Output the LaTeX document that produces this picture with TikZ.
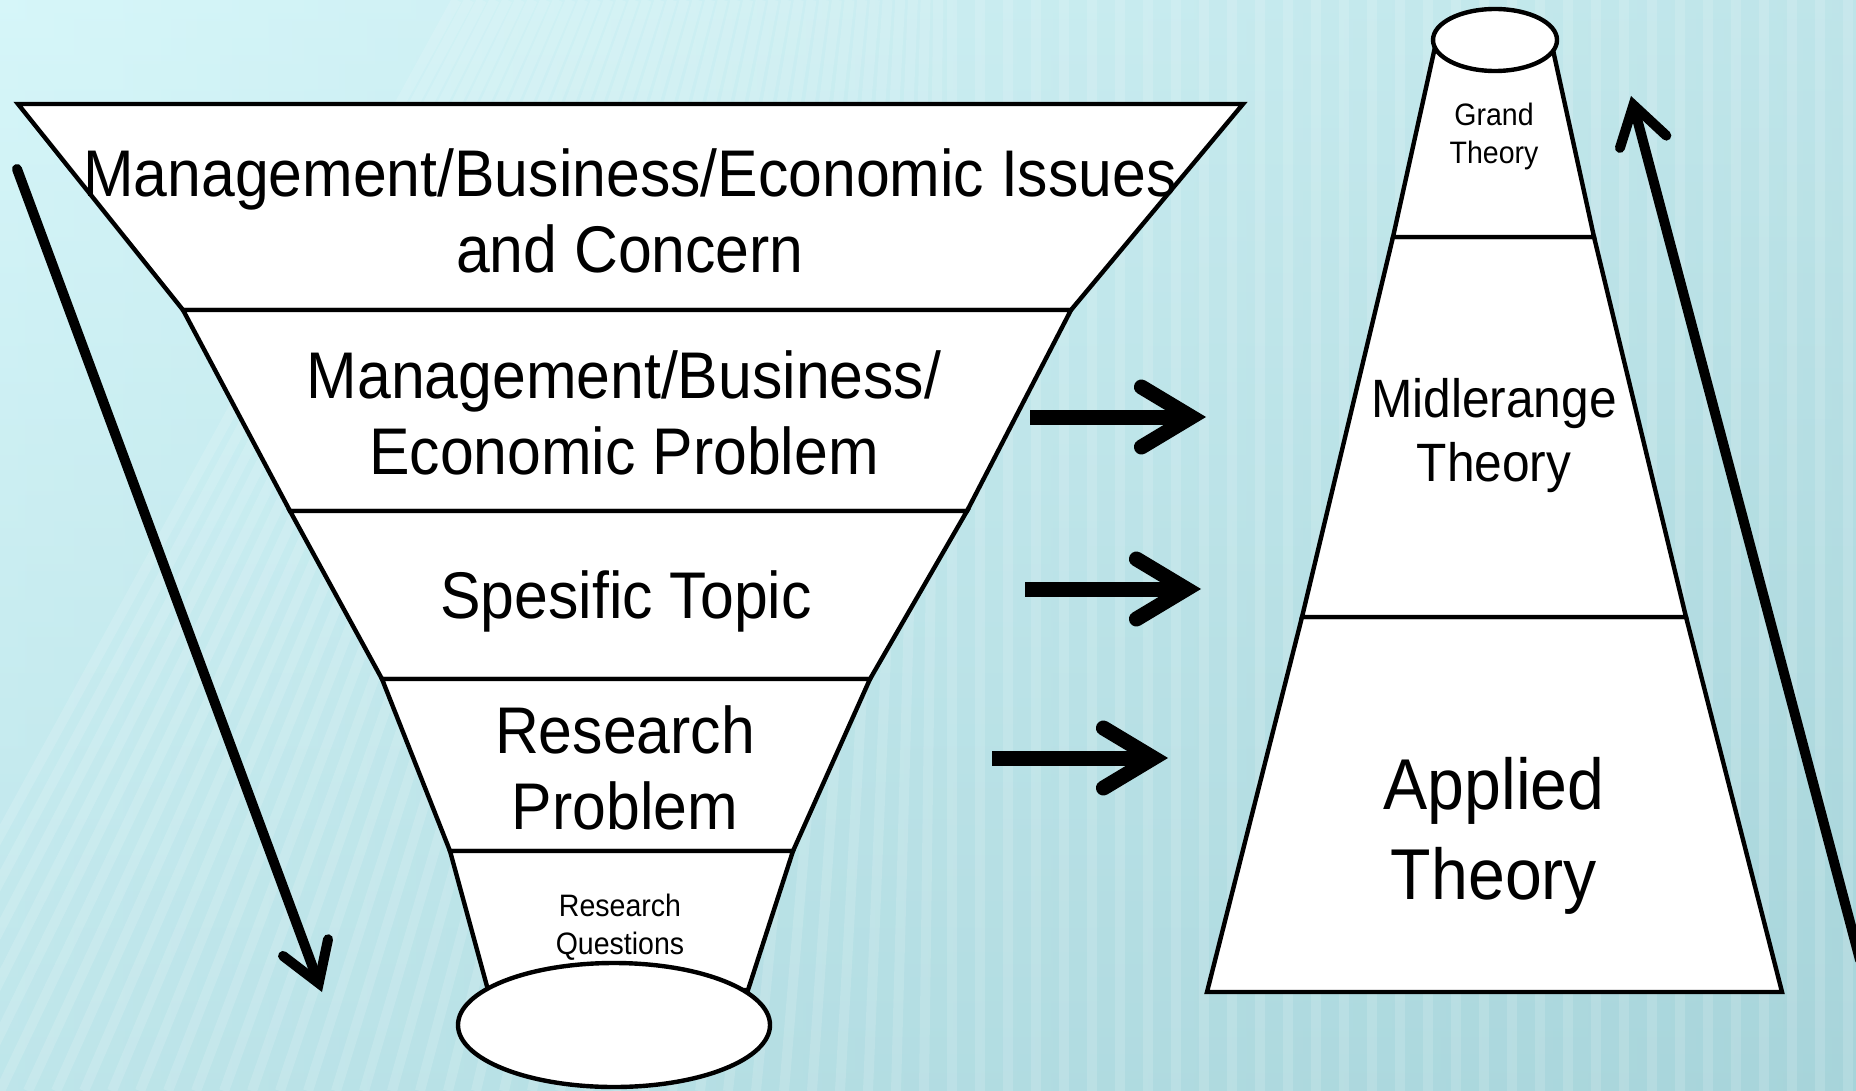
\documentclass[tikz,border=0pt]{standalone}
\usepackage{fontspec}
\setmainfont{Liberation Sans}[FakeStretch=0.92]
\usetikzlibrary{arrows.meta}
\definecolor{bgtop}{HTML}{D6F6F9}
\definecolor{bgbot}{HTML}{ABD8DE}
\definecolor{bgright}{HTML}{A2D0D6}
\begin{document}
\begin{tikzpicture}[x=0.5pt,y=-0.5pt,
  layer/.style={draw=black, fill=white, line width=2.2pt, line join=miter},
  bigtxt/.style={align=center, font=\fontsize{33}{38}\selectfont, inner sep=0pt},
  smalltxt/.style={align=center, font=\fontsize{15.5}{19}\selectfont, inner sep=0pt},
  midtxt/.style={align=center, font=\fontsize{27}{32}\selectfont, inner sep=0pt},
  apptxt/.style={align=center, font=\fontsize{36}{45}\selectfont, inner sep=0pt},
  longarrow/.style={line width=5pt, line cap=round,
    -{Straight Barb[length=19pt, width=24pt, line cap=round, line join=miter]}},
  flowarrow/.style={line width=7.5pt,
    -{Straight Barb[length=25pt, width=30pt, line cap=round, line join=miter]}}
]
\useasboundingbox (0,0) rectangle (1856,1091);
% background
\shade[top color=bgtop, bottom color=bgbot] (0,0) rectangle (1856,1091);
\shade[left color=bgtop, right color=bgright, opacity=0.45] (0,0) rectangle (1856,1091);
\begin{scope}
  \clip (0,0) rectangle (1856,1091);
  \foreach \i in {0,...,72} {
    \pgfmathsetmacro{\bx}{\i*28-140}
    \pgfmathsetmacro{\s}{max(0,520*(1-\bx/950))}
    \draw[white, opacity=0.14, line width=5pt] (\bx,1091) -- ({\bx+\s},0);
  }
\end{scope}

% funnel layers
\path[layer] (18,104) -- (1243,104) -- (1071,310) -- (183,310) -- cycle;
\path[layer] (183,310) -- (1071,310) -- (967,511) -- (290,511) -- cycle;
\path[layer] (290,511) -- (967,511) -- (870,679) -- (382,679) -- cycle;
\path[layer] (382,679) -- (870,679) -- (793,851) -- (450,851) -- cycle;
\path[layer] (450,851) -- (793,851) -- (748,990) -- (488,990) -- cycle;
\path[layer] (614,1025) ellipse [x radius=156, y radius=62];

% theory pyramid
\path[layer] (1302,617) -- (1686,617) -- (1782,992) -- (1207,992) -- cycle;
\path[layer] (1393,237) -- (1594,237) -- (1686,617) -- (1302,617) -- cycle;
\path[layer] (1435,47) -- (1553,50) -- (1594,237) -- (1393,237) -- cycle;
\path[layer] (1495,40) ellipse [x radius=62, y radius=31];

% texts
\node[bigtxt] (t1) at (630,211) {Management/Business/Economic Issues\\and Concern};
\node[bigtxt] (t2) at (624,413) {Management/Business/\\Economic Problem};
\node[bigtxt] (t3) at (626,601) {Spesific Topic};
\node[bigtxt] (t4) at (625,768) {Research\\Problem};
\node[smalltxt] (t5) at (620,927) {Research\\Questions};
\node[smalltxt] (g) at (1494,136) {Grand\\Theory};
\node[midtxt] (m) at (1494,436) {Midlerange\\Theory};
\node[apptxt] (a) at (1494,836) {Applied\\Theory};

% arrows
\coordinate (d1) at (17,169);
\coordinate (d2) at (322,992);
\draw[longarrow] (d1) -- (d2);
\coordinate (u1) at (1860,960);
\coordinate (u2) at (1631,96);
\begin{scope}
  \clip (0,0) rectangle (1856,1091);
  \draw[longarrow] (u1) -- (u2);
\end{scope}
\coordinate (h1s) at (1030,417);
\coordinate (h1e) at (1206,417);
\coordinate (h2s) at (1025,589);
\coordinate (h2e) at (1201,589);
\coordinate (h3s) at (992,758);
\coordinate (h3e) at (1168,758);
\draw[flowarrow] (h1s) -- (h1e);
\draw[flowarrow] (h2s) -- (h2e);
\draw[flowarrow] (h3s) -- (h3e);
\end{tikzpicture}
\end{document}
